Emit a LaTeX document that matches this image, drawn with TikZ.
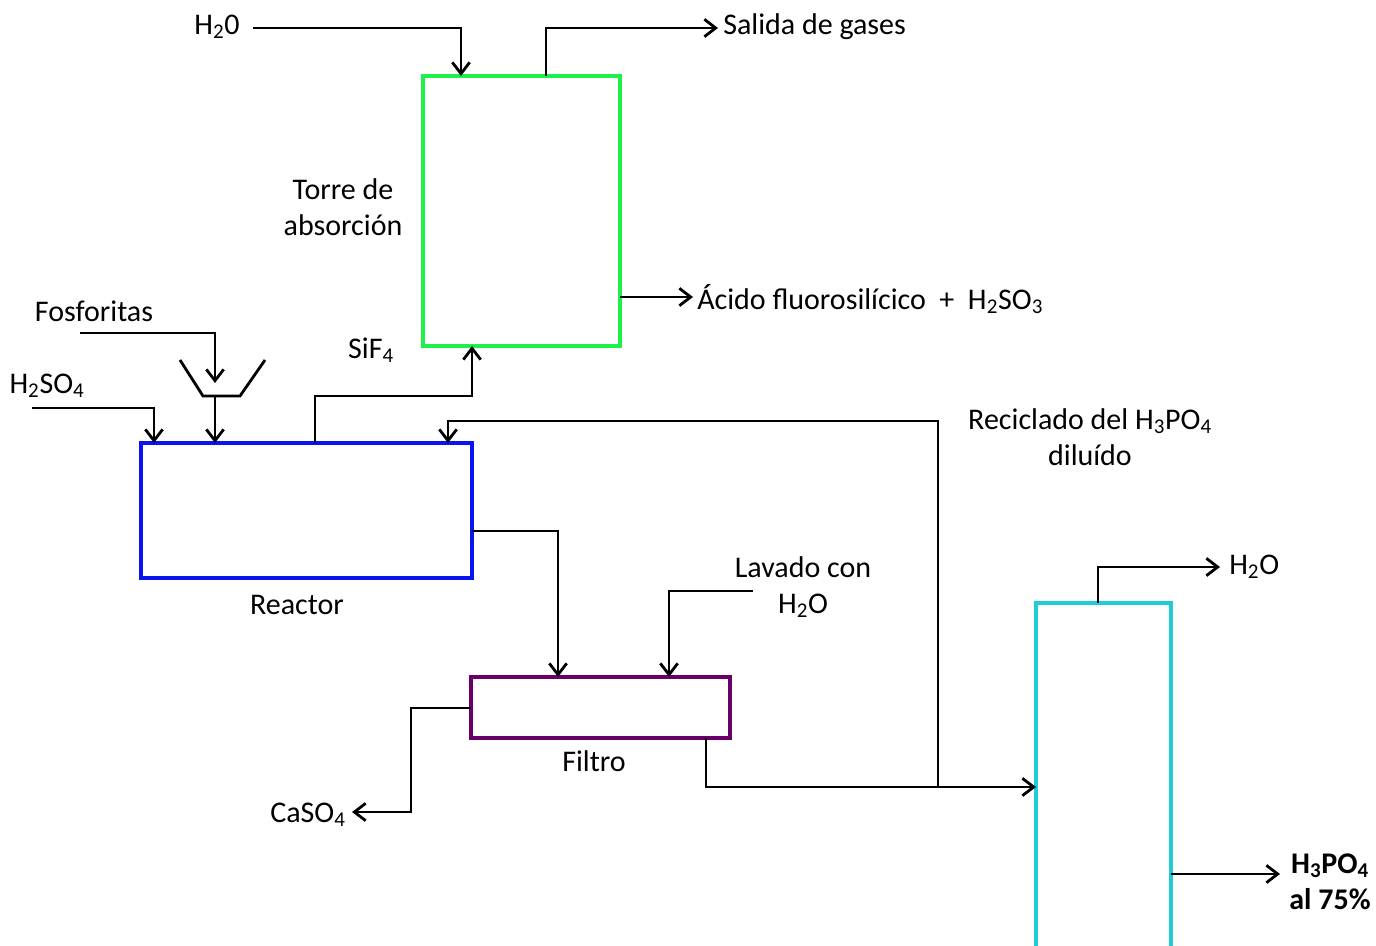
\documentclass[tikz,border=0pt]{standalone}
\usepackage{fontspec}
\setmainfont{Carlito}
\usetikzlibrary{arrows.meta}
\begin{document}
\begin{tikzpicture}[x=0.75pt,y=-0.75pt,
  flow/.style={draw=black, line width=2.1pt, -{Straight Barb[length=8.5pt,width=13pt]}},
  pipe/.style={draw=black, line width=2.1pt},
  unitbox/.style={draw, line width=2.4pt, inner sep=0pt, outer sep=0pt},
  lbl/.style={font=\fontsize{22.5}{27}\selectfont, inner sep=0pt, align=center},
]
\definecolor{towergreen}{RGB}{30,240,75}
\definecolor{reactblue}{RGB}{10,20,240}
\definecolor{filtpurple}{RGB}{105,0,105}
\definecolor{evapcyan}{RGB}{30,205,215}
\useasboundingbox (0,0) rectangle (1376,945);

% units
\node[unitbox, draw=towergreen, minimum width=147.75pt, minimum height=202.5pt] (tower) at (521.5,211) {};
\node[unitbox, draw=reactblue, minimum width=248.25pt, minimum height=101.25pt] (reactor) at (306.5,510.5) {};
\node[unitbox, draw=filtpurple, minimum width=194.25pt, minimum height=45.75pt] (filter) at (600.5,707.5) {};
\node[unitbox, draw=evapcyan, minimum width=101.25pt, minimum height=270pt] (evap) at (1103.5,783) {};

% labels
\node[lbl] (h2otop) at (217,27) {H\textsubscript{2}0};
\node[lbl, anchor=west] (salida) at (723,27) {Salida de gases};
\node[lbl] (torre) at (343,207) {Torre de\\absorción};
\node[lbl, anchor=west] (acido) at (697,299) {Ácido fluorosilícico~~+~~H\textsubscript{2}SO\textsubscript{3}};
\node[lbl] (fosf) at (94,311) {Fosforitas};
\node[lbl] (h2so4) at (47,386) {H\textsubscript{2}SO\textsubscript{4}};
\node[lbl] (sif4) at (371,350) {SiF\textsubscript{4}};
\node[lbl] (recic) at (1090,437) {Reciclado del H\textsubscript{3}PO\textsubscript{4}\\diluído};
\node[lbl] (reactlbl) at (297,605) {Reactor};
\node[lbl] (lavado) at (803,587) {Lavado con\\H\textsubscript{2}O};
\node[lbl] (filtlbl) at (594,761) {Filtro};
\node[lbl] (caso4) at (308,815) {CaSO\textsubscript{4}};
\node[lbl, anchor=west] (h2oevap) at (1229,567) {H\textsubscript{2}O};
\node[lbl, font=\fontsize{22.5}{27}\selectfont\bfseries] (prod) at (1330,882) {H\textsubscript{3}PO\textsubscript{4}\\al 75\%};

% coordinates
\coordinate (wA) at (253,28);
\coordinate (xA) at (461,0);
\coordinate (xS) at (546,28);
\coordinate (sE) at (718,28);
\coordinate (acE) at (693,297);
\coordinate (foA) at (80,333);
\coordinate (hopin) at (215,383);
\coordinate (hp1) at (180,360);
\coordinate (hp2) at (203,396);
\coordinate (hp3) at (240,396);
\coordinate (hp4) at (265,360);
\coordinate (hopbot) at (215,396);
\coordinate (saA) at (32,408);
\coordinate (xSa) at (154,0);
\coordinate (sfb) at (315,396);
\coordinate (xSt) at (472,0);
\coordinate (jn) at (938,787);
\coordinate (rc) at (448,421);
\coordinate (ro) at (558,531);
\coordinate (lvA) at (753,591);
\coordinate (xLv) at (669,0);
\coordinate (yCa) at (0,708);
\coordinate (caB) at (411,812);
\coordinate (caE) at (352,812);
\coordinate (xFo) at (706,0);
\coordinate (xEv) at (1098,567);
\coordinate (evE) at (1220,567);
\coordinate (yPr) at (0,874);
\coordinate (prE) at (1280,874);

% connectors
\draw[flow] (wA) -| (tower.north -| xA);
\draw[flow] (tower.north -| xS) -- (xS) -- (sE);
\draw[flow] (tower.east |- acE) -- (acE);
\draw[flow] (foA) -| (hopin);
\draw[pipe] (hp1) -- (hp2) -- (hp3) -- (hp4);
\draw[flow] (hopbot) -- (reactor.north -| hopbot);
\draw[flow] (saA) -| (reactor.north -| xSa);
\draw[flow] (reactor.north -| sfb) -- (sfb) -| (tower.south -| xSt);
\draw[flow] (jn) -- (jn |- rc) -- (rc) -- (reactor.north -| rc);
\draw[flow] (reactor.east |- ro) -- (ro) -- (filter.north -| ro);
\draw[flow] (lvA) -| (filter.north -| xLv);
\draw[flow] (filter.west |- yCa) -| (caB) -- (caE);
\draw[flow] (filter.south -| xFo) |- (evap.west |- jn);
\draw[flow] (evap.north -| xEv) -- (xEv) -- (evE);
\draw[flow] (evap.east |- yPr) -- (prE);
\end{tikzpicture}
\end{document}
